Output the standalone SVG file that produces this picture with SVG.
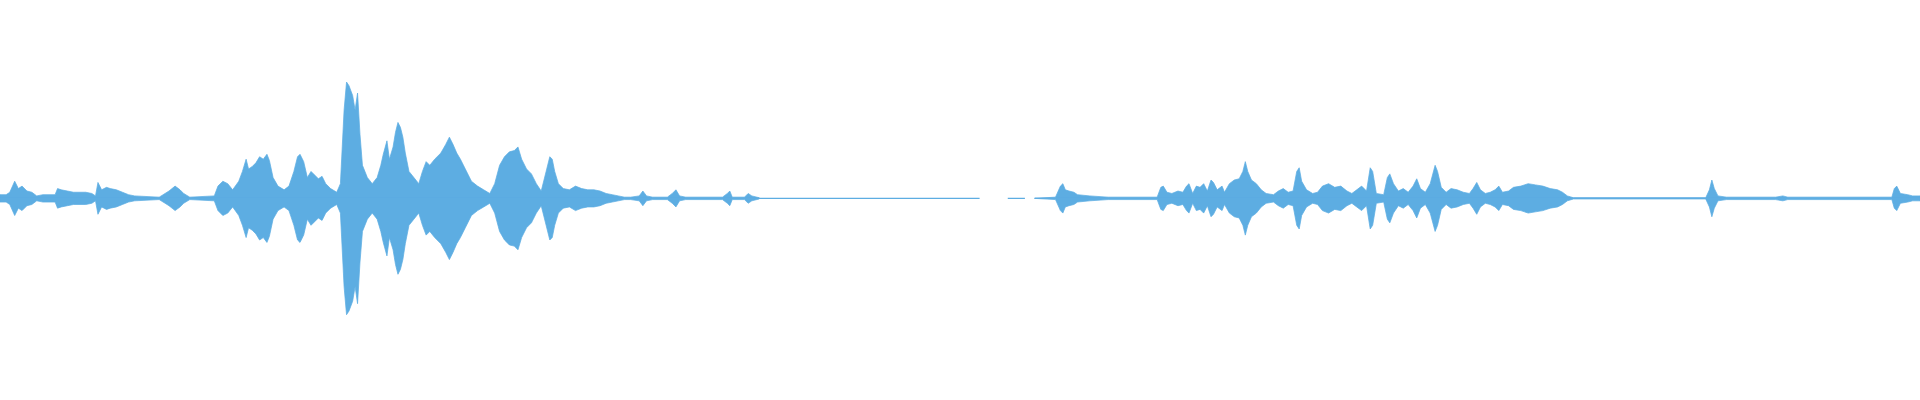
<svg xmlns="http://www.w3.org/2000/svg" xmlns:xlink="http://www.w3.org/1999/xlink" width="1920" height="400" viewBox="0 0 1920 400">
<style>.w{fill:#5dade2;stroke:#5dade2;stroke-width:0.6;stroke-linejoin:round}.b{stroke:#5dade2;stroke-width:1}</style>
<rect width="1920" height="400" fill="#fff"/>
<g transform="scale(1.2245)">
<defs>
<path id="top" class="w" d="M0,162 L0,159 5,159 8,157 12,148 15,154 18,152 22,156 26,157 30,160 35,159 45,159 47,154 50,155 55,156 60,157 70,157 75,158 78,160 80,149 83,155 87,153 90,154 95,155 100,157 105,159 110,160 130,161 138,156 143,152 147,155 150,158 155,161 175,160 178,152 182,148 186,150 190,155 195,148 198,140 201,130 203,138 206,136 209,133 212,128 215,130 218,126 220,131 223,145 227,152 232,155 236,152 240,140 243,128 245,126 248,132 251,145 254,140 257,143 260,146 263,144 266,150 270,154 275,157 278,150 281,90 283,67 285,70 288,78 290,90 292,76 294,110 296,135 300,145 304,150 308,145 311,135 313,126 316,115 318,130 321,120 323,108 325,100 327,104 329,112 331,125 334,140 338,145 342,150 345,140 348,132 351,135 355,130 360,125 364,118 367,112 370,118 373,125 376,130 380,138 385,148 390,152 395,155 400,158 404,150 408,135 412,128 416,124 420,123 423,120 426,130 430,138 434,142 438,150 442,156 446,140 449,128 451,130 453,140 456,150 460,154 465,155 470,152 475,154 480,155 485,155 490,156 495,158 500,159 505,160 510,161 515,161 522,160 525,156 528,160 533,161 545,161 549,158 552,155 555,160 560,161 590,161 594,158 596,156 598,161 608,161 611,158 614,160 620,161.5 620,162 Z M845,162 L862,161 866,152 868,150 870,155 873,156 877,157 880,159 890,160 905,161 945,161 948,153 950,152 953,157 957,158 962,156 966,157 969,152 971,150 974,158 977,152 980,153 983,150 986,156 989,147 991,149 994,155 998,152 1000,157 1004,150 1008,147 1012,146 1015,140 1017,132 1019,140 1022,147 1026,150 1030,155 1034,158 1040,159 1044,156 1048,154 1052,157 1056,156 1059,140 1061,137 1063,148 1067,155 1072,158 1076,157 1080,152 1085,150 1090,153 1095,152 1100,156 1104,158 1108,155 1112,152 1116,156 1119,137 1121,140 1124,158 1130,159 1133,145 1135,142 1138,150 1142,156 1146,154 1150,157 1154,152 1157,146 1160,154 1164,157 1168,150 1172,135 1174,140 1177,153 1181,157 1185,154 1190,155 1195,157 1200,158 1203,154 1206,149 1209,155 1213,158 1217,157 1221,155 1224,152 1227,157 1232,156 1236,153 1242,152 1248,150 1254,151 1260,152 1266,154 1272,155 1276,157 1280,160 1285,161.5 1393,161.5 1396,155 1398,147 1400,154 1403,160 1410,161 1450,161 1456,160 1460,161 1545,161 1547,154 1549,152 1552,158 1558,159 1562,160 1568,160 1568,162 Z"/>
</defs>
<use xlink:href="#top"/>
<use xlink:href="#top" transform="translate(0,324) scale(1,-1)"/>
<path class="b" d="M0,162H800M823,162H837M845,162H1568"/>
</g>
</svg>
